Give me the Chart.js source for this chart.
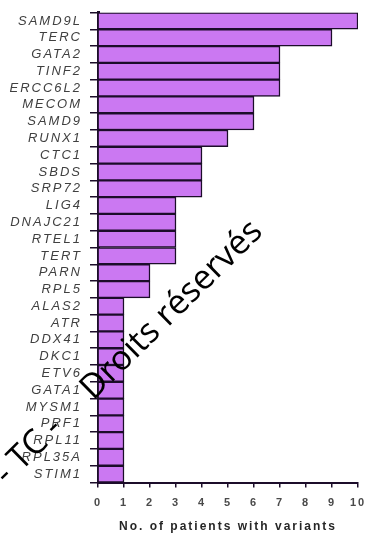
<!DOCTYPE html>
<html>
<head>
<meta charset="utf-8">
<script src="https://cdn.jsdelivr.net/npm/chart.js@4/dist/chart.umd.min.js"></script>
<style>
  html, body { margin: 0; padding: 0; background: #ffffff; }
  #wrap { width: 367px; height: 534px; }
</style>
</head>
<body>
<div id="wrap"><canvas id="c" width="367" height="534"></canvas></div>
<script>
// Genes, ordered from most to fewest patients
const genes = [
  'SAMD9L', 'TERC', 'GATA2', 'TINF2', 'ERCC6L2', 'MECOM', 'SAMD9', 'RUNX1',
  'CTC1', 'SBDS', 'SRP72', 'LIG4', 'DNAJC21', 'RTEL1', 'TERT', 'PARN', 'RPL5',
  'ALAS2', 'ATR', 'DDX41', 'DKC1', 'ETV6', 'GATA1', 'MYSM1', 'PRF1', 'RPL11',
  'RPL35A', 'STIM1'
];
// Number of patients carrying a variant in each gene
const patientCounts = [
  10, 9, 7, 7, 7, 6, 6, 5,
  4, 4, 4, 3, 3, 3, 3, 2, 2,
  1, 1, 1, 1, 1, 1, 1, 1, 1,
  1, 1
];
const xAxisMin = 0;
const xAxisMax = 10;
const xAxisStep = 1;
const xAxisTitle = 'No. of patients with variants';
const overlayLead = '- TC -';
const overlayMain = 'Droits réservés';

const ink = '#1c0d2a';
const barFill = '#cb78f2';

// Wide letter spacing for axis text; diagonal overlay text on top
const textPlugin = {
  id: 'textStyling',
  beforeDraw(chart) {
    chart.ctx.letterSpacing = '2px';
  },
  afterDraw(chart) {
    const ctx = chart.ctx;
    ctx.save();
    ctx.letterSpacing = '0px';
    ctx.translate(0, 480);
    ctx.rotate(-44.5 * Math.PI / 180);
    ctx.font = '34px "Open Sans", "DejaVu Sans", sans-serif';
    ctx.fillStyle = '#000000';
    ctx.textAlign = 'left';
    ctx.textBaseline = 'alphabetic';
    ctx.fillText(overlayLead, 1, 9);
    ctx.fillText(overlayMain, 122, 9);
    ctx.restore();
    ctx.letterSpacing = '0px';
  }
};

new Chart(document.getElementById('c'), {
  type: 'bar',
  data: {
    labels: genes,
    datasets: [{
      data: patientCounts,
      backgroundColor: barFill,
      borderColor: ink,
      borderWidth: 1.5,
      categoryPercentage: 1,
      barPercentage: 1
    }]
  },
  options: {
    indexAxis: 'y',
    responsive: false,
    animation: false,
    devicePixelRatio: 1,
    layout: { padding: { top: 12.5, right: 9, left: 0, bottom: 0 } },
    plugins: {
      legend: { display: false },
      tooltip: { enabled: false }
    },
    scales: {
      y: {
        z: 1,
        afterFit(scale) {
          scale.width = 98;
          scale.paddingTop = 0;
          scale.paddingBottom = 0;
        },
        border: { display: true, color: ink, width: 3 },
        grid: {
          offset: true,
          drawOnChartArea: false,
          drawTicks: true,
          tickLength: 8,
          color: ink,
          lineWidth: 1.5
        },
        ticks: {
          autoSkip: false,
          padding: 8,
          color: '#404040',
          font: { family: '"Liberation Sans", Arial, sans-serif', size: 13, style: 'italic' }
        }
      },
      x: {
        z: 1,
        min: xAxisMin,
        max: xAxisMax,
        afterFit(scale) {
          scale.height = 51.5;
          scale.paddingLeft = 0;
          scale.paddingRight = 0;
        },
        border: { display: true, color: ink, width: 2 },
        grid: {
          drawOnChartArea: false,
          drawTicks: true,
          tickLength: 5,
          color: ink,
          lineWidth: 1.5
        },
        ticks: {
          stepSize: xAxisStep,
          padding: 9,
          color: '#4a4a4a',
          font: { family: '"Liberation Sans", Arial, sans-serif', size: 11, weight: 'bold' }
        },
        title: {
          display: true,
          text: xAxisTitle,
          color: '#262626',
          padding: { top: 0, bottom: 0 },
          font: { family: '"Liberation Sans", Arial, sans-serif', size: 12, weight: 'bold' }
        }
      }
    }
  },
  plugins: [textPlugin]
});
</script>
</body>
</html>
